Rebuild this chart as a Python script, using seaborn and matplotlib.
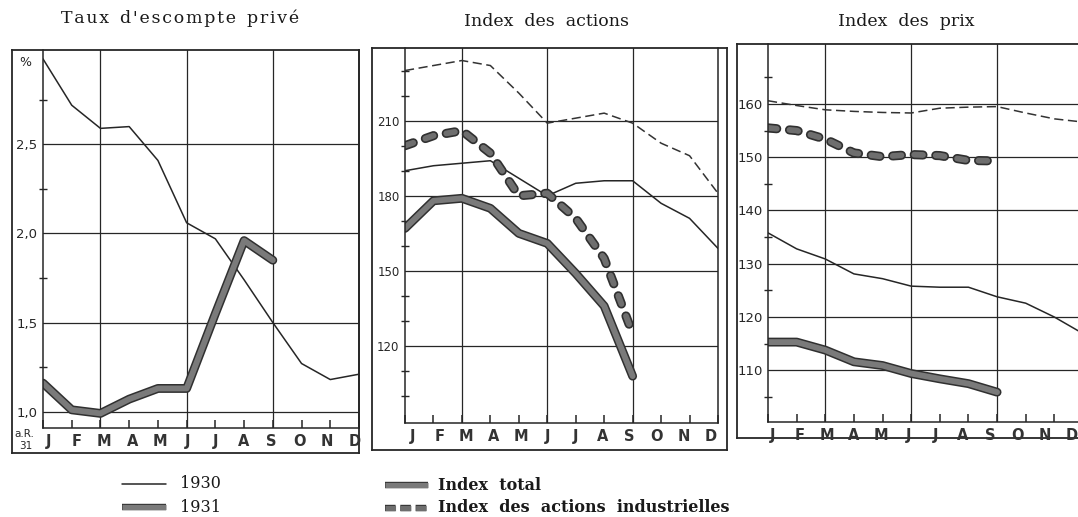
import numpy as np
import pandas as pd
import matplotlib
matplotlib.use('Agg')
import matplotlib.pyplot as plt
import matplotlib.patheffects as pe
from matplotlib.lines import Line2D
import seaborn as sns

months = ['J', 'F', 'M', 'A', 'M', 'J', 'J', 'A', 'S', 'O', 'N', 'D']

# Taux d'escompte privé (%)
escompte_1930 = [2.98, 2.72, 2.59, 2.60, 2.41, 2.06, 1.97, 1.74, 1.50, 1.27, 1.18, 1.21]
escompte_1931 = [1.16, 1.01, 0.99, 1.07, 1.13, 1.13, 1.55, 1.96, 1.85]

# Index des actions
actions_total_1930 = [190, 192, 193, 194, 187, 180, 185, 186, 186, 177, 171, 159]
actions_total_1931 = [167, 178, 179, 175, 165, 161, 149, 136, 108]
actions_indus_1930 = [230, 232, 234, 232, 221, 209, 211, 213, 209, 201, 196, 181]
actions_indus_1931 = [200, 204, 206, 197, 180, 181, 171, 155, 125]

# Index des prix
prix_total_1930 = [135.8, 132.8, 130.9, 128.1, 127.2, 125.8, 125.6, 125.6, 123.8, 122.6, 120.0, 116.9]
prix_total_1931 = [115.3, 115.3, 113.8, 111.6, 110.9, 109.4, 108.4, 107.5, 105.9]
prix_indus_1930 = [160.6, 159.7, 158.9, 158.6, 158.4, 158.3, 159.2, 159.4, 159.5, 158.3, 157.2, 156.6]
prix_indus_1931 = [155.5, 155.0, 153.4, 150.8, 150.1, 150.5, 150.3, 149.4, 149.3]

sns.set_theme(style='white')
plt.rcParams['font.family'] = ['DejaVu Sans']
SERIF = ['DejaVu Serif', 'Liberation Serif']

W, H = 1078, 517
INK = '#262626'


def rect(x0, y0, x1, y1):
    return [x0 / W, 1 - y1 / H, (x1 - x0) / W, (y1 - y0) / H]


def style_kw(kind):
    if kind == 'thin':
        return dict(color=INK, linewidth=1.1)
    if kind == 'thin_dash':
        return dict(color='#333333', linewidth=1.1, linestyle=(0, (6, 3)))
    if kind == 'thick':
        return dict(color='#7a7a7a', linewidth=4.2, solid_capstyle='round', solid_joinstyle='round',
                    path_effects=[pe.Stroke(linewidth=6.4, foreground='#303030'), pe.Normal()])
    return dict(color='#6e6e6e', linewidth=4.2, linestyle=(0, (1.5, 2.2)),
                dash_capstyle='round',
                path_effects=[pe.Stroke(linewidth=6.6, foreground='#303030'), pe.Normal()])


def draw(ax, values, kind):
    df = pd.DataFrame({'mois': np.arange(len(values)), 'valeur': values})
    sns.lineplot(data=df, x='mois', y='valeur', ax=ax, legend=False, **style_kw(kind))


fig = plt.figure(figsize=(W / 100, H / 100), dpi=100)

panels = [
    dict(title="T\u200aa\u200au\u200ax  d\u200a'\u200ae\u200as\u200ac\u200ao\u200am\u200ap\u200at\u200ae  p\u200ar\u200ai\u200av\u200aé",
         tx=180, ty=18,
         frame=(12, 50, 359, 453), inner=(43, 50, 359, 428), lab=(0.2, 10.85),
         ylim=(0.908, 3.03), major=[1.0, 1.5, 2.0, 2.5], labels=['1,0', '1,5', '2,0', '2,5'],
         minor=[1.25, 1.75, 2.25, 2.75], lsize=9.5,
         series=[(escompte_1930, 'thin'), (escompte_1931, 'thick')]),
    dict(title='Index  des  actions', tx=547, ty=22,
         frame=(372, 48, 727, 450), inner=(405, 48, 718, 423), lab=(0.25, 10.75),
         ylim=(89.3, 239), major=[120, 150, 180, 210], labels=['120', '150', '180', '210'],
         minor=[100, 110, 130, 140, 160, 170, 190, 200, 220, 230], lsize=8.5,
         series=[(actions_indus_1930, 'thin_dash'), (actions_total_1930, 'thin'),
                 (actions_total_1931, 'thick'), (actions_indus_1931, 'thick_dash')]),
    dict(title='Index  des  prix', tx=906, ty=22,
         frame=(737, 44, 1095, 438), inner=(768, 44, 1083, 422), lab=(0.15, 10.6),
         ylim=(100.3, 171.25), major=[110, 120, 130, 140, 150, 160],
         labels=['110', '120', '130', '140', '150', '160'],
         minor=[105, 115, 125, 135, 145, 155, 165], lsize=9.5,
         series=[(prix_indus_1930, 'thin_dash'), (prix_total_1930, 'thin'),
                 (prix_total_1931, 'thick'), (prix_indus_1931, 'thick_dash')]),
]

for p in panels:
    fr = fig.add_axes(rect(*p['frame']))
    fr.set_xticks([])
    fr.set_yticks([])
    for s in fr.spines.values():
        s.set_color(INK)
        s.set_linewidth(1.3)

    ax = fig.add_axes(rect(*p['inner']))
    ax.patch.set_alpha(0)
    for (vals, kind) in p['series']:
        draw(ax, vals, kind)
    ax.set_xlim(0, 11)
    ax.set_ylim(*p['ylim'])
    # tick marks on each month, labels slightly squeezed as on the original
    ax.xaxis.remove_overlapping_locs = False
    ax.set_xticks(range(12))
    ax.set_xticklabels([])
    ax.set_xticks(np.linspace(p['lab'][0], p['lab'][1], 12), minor=True)
    ax.set_xticklabels(months, minor=True, fontsize=10.5, fontweight='bold', color='#333333')
    ax.set_yticks(p['major'])
    ax.set_yticklabels(p['labels'], fontsize=p['lsize'], color=INK)
    ax.set_yticks(p['minor'], minor=True)
    ax.tick_params(axis='x', which='major', direction='in', length=6, width=1.1, color=INK, bottom=True)
    ax.tick_params(axis='x', which='minor', length=0, pad=4, bottom=True)
    ax.tick_params(axis='y', which='both', direction='inout', length=6, width=1.0, color=INK,
                   pad=4, left=True)
    ax.tick_params(axis='y', which='major', length=0)
    ax.yaxis.grid(True, color=INK, linewidth=0.9)
    ax.xaxis.grid(False)
    for m in [2, 5, 8]:
        ax.axvline(m, color=INK, linewidth=0.9, zorder=0.5)
    ax.set_xlabel('')
    ax.set_ylabel('')
    for s in ax.spines.values():
        s.set_color(INK)
        s.set_linewidth(1.1)
    ax.spines['top'].set_visible(False)

    fig.text(p['tx'] / W, 1 - p['ty'] / H, p['title'], ha='center', va='center',
             fontsize=12.5, family=SERIF, color='#1a1a1a')

# petits textes du premier panneau
fig.text(25 / W, 1 - 63 / H, '%', ha='center', va='center', fontsize=9, color=INK)
fig.text(24 / W, 1 - 434 / H, 'a.R.', ha='center', va='center', fontsize=7.5, color=INK)
fig.text(26 / W, 1 - 446 / H, '31', ha='center', va='center', fontsize=7.5, color=INK)


# légende
def legend_line(x0, x1, y, kind):
    kw = style_kw(kind)
    if kind == 'thick':
        kw['solid_capstyle'] = 'butt'
        kw['linewidth'] = 3.8
        kw['path_effects'] = [pe.Stroke(linewidth=4.6, foreground='#303030'), pe.Normal()]
    if kind == 'thick_dash':
        kw['dash_capstyle'] = 'butt'
        kw['linewidth'] = 3.8
        kw['linestyle'] = (0, (2.0, 0.9))
        kw['path_effects'] = [pe.Stroke(linewidth=4.6, foreground='#303030'), pe.Normal()]
    line = Line2D([x0 / W, x1 / W], [1 - y / H, 1 - y / H], transform=fig.transFigure, **kw)
    fig.add_artist(line)


legend_line(122, 166, 484, 'thin')
legend_line(122, 166, 507, 'thick')
fig.text(180 / W, 1 - 484 / H, '1930', va='center', fontsize=11.5, family=SERIF, color='#1a1a1a')
fig.text(180 / W, 1 - 507 / H, '1931', va='center', fontsize=11.5, family=SERIF, color='#1a1a1a')

legend_line(385, 428, 485, 'thick')
legend_line(385, 428, 508, 'thick_dash')
fig.text(438 / W, 1 - 485 / H, 'Index  total', va='center', fontsize=11.5, fontweight='bold',
         family=SERIF, color='#1a1a1a')
fig.text(438 / W, 1 - 508 / H, 'Index  des  actions  industrielles', va='center', fontsize=11.5,
         fontweight='bold', family=SERIF, color='#1a1a1a')

fig.savefig('out.png', dpi=100)
